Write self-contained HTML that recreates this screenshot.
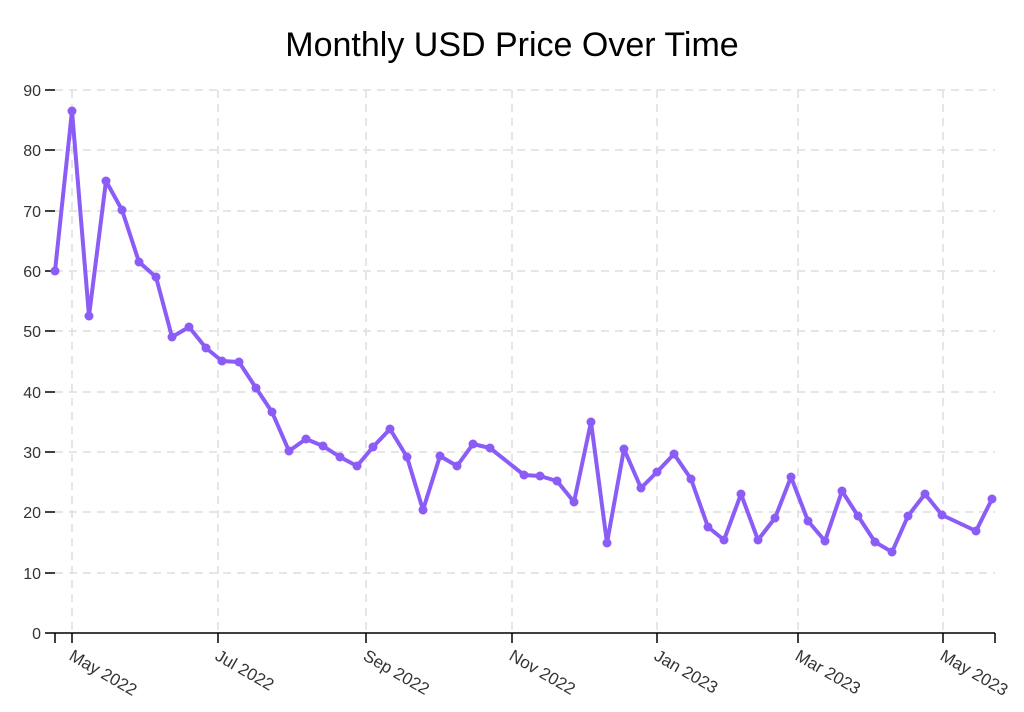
<!DOCTYPE html>
<html><head><meta charset="utf-8"><style>
body{margin:0;background:#fff;}
svg{display:block;font-family:"Liberation Sans",sans-serif;}
</style></head><body>
<svg width="1024" height="712" viewBox="0 0 1024 712">
<rect width="1024" height="712" fill="#fff"/>
<text x="512" y="56" text-anchor="middle" font-size="34" fill="#000">Monthly USD Price Over Time</text>
<g stroke="#ddd" stroke-width="1.5" stroke-dasharray="8,6">
<line x1="55" x2="995" y1="573" y2="573"/><line x1="55" x2="995" y1="512" y2="512"/>
<line x1="55" x2="995" y1="452" y2="452"/><line x1="55" x2="995" y1="392" y2="392"/>
<line x1="55" x2="995" y1="331" y2="331"/><line x1="55" x2="995" y1="271" y2="271"/>
<line x1="55" x2="995" y1="211" y2="211"/><line x1="55" x2="995" y1="150" y2="150"/>
<line x1="55" x2="995" y1="90" y2="90"/>
<line x1="72" x2="72" y1="90" y2="633"/><line x1="218" x2="218" y1="90" y2="633"/>
<line x1="366" x2="366" y1="90" y2="633"/><line x1="512" x2="512" y1="90" y2="633"/>
<line x1="657" x2="657" y1="90" y2="633"/><line x1="798" x2="798" y1="90" y2="633"/>
<line x1="943" x2="943" y1="90" y2="633"/>
</g>
<g stroke="#000" stroke-width="1.5">
<line x1="55" x2="995" y1="633" y2="633"/>
<line x1="45" x2="55" y1="633" y2="633"/><line x1="45" x2="55" y1="573" y2="573"/>
<line x1="45" x2="55" y1="512" y2="512"/><line x1="45" x2="55" y1="452" y2="452"/>
<line x1="45" x2="55" y1="392" y2="392"/><line x1="45" x2="55" y1="331" y2="331"/>
<line x1="45" x2="55" y1="271" y2="271"/><line x1="45" x2="55" y1="211" y2="211"/>
<line x1="45" x2="55" y1="150" y2="150"/><line x1="45" x2="55" y1="90" y2="90"/>
<line x1="55" x2="55" y1="633" y2="643"/><line x1="72" x2="72" y1="633" y2="643"/>
<line x1="218" x2="218" y1="633" y2="643"/><line x1="366" x2="366" y1="633" y2="643"/>
<line x1="512" x2="512" y1="633" y2="643"/><line x1="657" x2="657" y1="633" y2="643"/>
<line x1="798" x2="798" y1="633" y2="643"/><line x1="943" x2="943" y1="633" y2="643"/>
<line x1="995" x2="995" y1="633" y2="643"/>
</g>
<g font-size="16" fill="#333" text-anchor="end">
<text x="41" y="639">0</text><text x="41" y="579">10</text><text x="41" y="518">20</text>
<text x="41" y="458">30</text><text x="41" y="398">40</text><text x="41" y="337">50</text>
<text x="41" y="277">60</text><text x="41" y="217">70</text><text x="41" y="156">80</text>
<text x="41" y="96">90</text>
</g>
<g font-size="17" fill="#333">
<text transform="translate(68,659) rotate(30)">May 2022</text>
<text transform="translate(214,659) rotate(30)">Jul 2022</text>
<text transform="translate(362,659) rotate(30)">Sep 2022</text>
<text transform="translate(508,659) rotate(30)">Nov 2022</text>
<text transform="translate(653,659) rotate(30)">Jan 2023</text>
<text transform="translate(794,659) rotate(30)">Mar 2023</text>
<text transform="translate(939,659) rotate(30)">May 2023</text>
</g>
<polyline fill="none" stroke="#8B5CF6" stroke-width="4" stroke-linejoin="round" points="55,271 72,111 89,316 106,181 122,210 139,262 156,277 172,337 189,327 206,348 222,361 239,362 256,388 272,412 289,451 306,439 323,446 340,457 357,466 373,447 390,429 407,457 423,510 440,456 457,466 473,444 490,448 524,475 540,476 557,481 574,502 591,422 607,543 624,449 641,488 657,472 674,454 691,479 708,527 724,540 741,494 758,540 775,518 791,477 808,521 825,541 842,491 858,516 875,542 892,552 908,516 925,494 942,515 976,531 992,499"/>
<g fill="#8B5CF6">
<circle cx="55" cy="271" r="4.5"/><circle cx="72" cy="111" r="4.5"/><circle cx="89" cy="316" r="4.5"/><circle cx="106" cy="181" r="4.5"/><circle cx="122" cy="210" r="4.5"/><circle cx="139" cy="262" r="4.5"/><circle cx="156" cy="277" r="4.5"/><circle cx="172" cy="337" r="4.5"/><circle cx="189" cy="327" r="4.5"/><circle cx="206" cy="348" r="4.5"/><circle cx="222" cy="361" r="4.5"/><circle cx="239" cy="362" r="4.5"/><circle cx="256" cy="388" r="4.5"/><circle cx="272" cy="412" r="4.5"/><circle cx="289" cy="451" r="4.5"/><circle cx="306" cy="439" r="4.5"/><circle cx="323" cy="446" r="4.5"/><circle cx="340" cy="457" r="4.5"/><circle cx="357" cy="466" r="4.5"/><circle cx="373" cy="447" r="4.5"/><circle cx="390" cy="429" r="4.5"/><circle cx="407" cy="457" r="4.5"/><circle cx="423" cy="510" r="4.5"/><circle cx="440" cy="456" r="4.5"/><circle cx="457" cy="466" r="4.5"/><circle cx="473" cy="444" r="4.5"/><circle cx="490" cy="448" r="4.5"/><circle cx="524" cy="475" r="4.5"/><circle cx="540" cy="476" r="4.5"/><circle cx="557" cy="481" r="4.5"/><circle cx="574" cy="502" r="4.5"/><circle cx="591" cy="422" r="4.5"/><circle cx="607" cy="543" r="4.5"/><circle cx="624" cy="449" r="4.5"/><circle cx="641" cy="488" r="4.5"/><circle cx="657" cy="472" r="4.5"/><circle cx="674" cy="454" r="4.5"/><circle cx="691" cy="479" r="4.5"/><circle cx="708" cy="527" r="4.5"/><circle cx="724" cy="540" r="4.5"/><circle cx="741" cy="494" r="4.5"/><circle cx="758" cy="540" r="4.5"/><circle cx="775" cy="518" r="4.5"/><circle cx="791" cy="477" r="4.5"/><circle cx="808" cy="521" r="4.5"/><circle cx="825" cy="541" r="4.5"/><circle cx="842" cy="491" r="4.5"/><circle cx="858" cy="516" r="4.5"/><circle cx="875" cy="542" r="4.5"/><circle cx="892" cy="552" r="4.5"/><circle cx="908" cy="516" r="4.5"/><circle cx="925" cy="494" r="4.5"/><circle cx="942" cy="515" r="4.5"/><circle cx="976" cy="531" r="4.5"/><circle cx="992" cy="499" r="4.5"/>
</g>
</svg>
</body></html>
